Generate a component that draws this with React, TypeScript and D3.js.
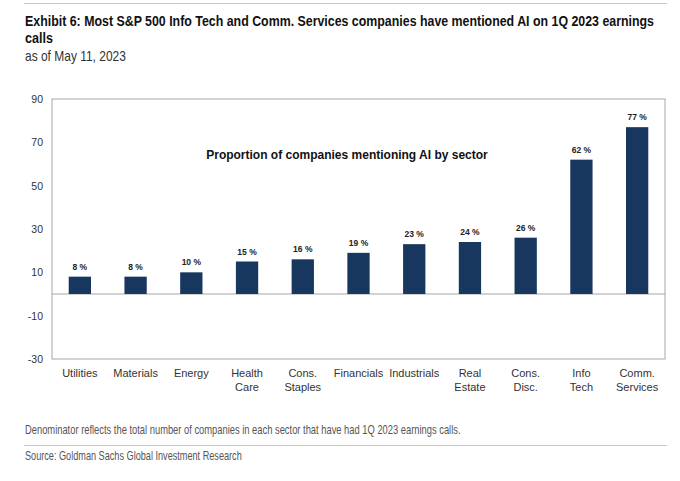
import React, { useEffect, useRef } from 'react';
import * as d3 from 'd3';

// sector labels (two lines where the original wraps)
const sectors: string[][] = [
  ['Utilities'], ['Materials'], ['Energy'], ['Health', 'Care'], ['Cons.', 'Staples'],
  ['Financials'], ['Industrials'], ['Real', 'Estate'], ['Cons.', 'Disc.'], ['Info', 'Tech'],
  ['Comm.', 'Services'],
];
const shares = [8, 8, 10, 15, 16, 19, 23, 24, 26, 62, 77];
const yTicks = [90, 70, 50, 30, 10, -10, -30];

const W = 680;
const H = 481;
const arial = '"Liberation Sans", Arial, sans-serif';

// squeeze a text horizontally into a given width, the original uses a narrow face
const fitText = (
  sel: d3.Selection<SVGSVGElement, unknown, null, undefined>,
  txt: string, x: number, y: number, len: number, size: number, bold = false, fill = '#222'
) => {
  const wrap = sel.append('g');
  const t = wrap.append('text')
    .attr('x', 0).attr('y', 0)
    .attr('font-family', arial).attr('font-size', size)
    .attr('font-weight', bold ? 'bold' : 'normal')
    .attr('fill', fill)
    .text(txt);
  const natural = (t.node() as SVGTextElement).getComputedTextLength() || len;
  wrap.attr('transform', `translate(${x},${y}) scale(${len / natural},1)`);
};

const App: React.FC = () => {
  const svgRef = useRef<SVGSVGElement | null>(null);

  useEffect(() => {
    if (!svgRef.current) return;
    const svg = d3.select(svgRef.current);
    svg.selectAll('*').remove();

    const margin = { top: 99, left: 52, right: 15, bottom: 122 };
    const innerW = W - margin.left - margin.right;
    const innerH = H - margin.top - margin.bottom;

    // header
    svg.append('line').attr('x1', 24).attr('x2', 667).attr('y1', 3.5).attr('y2', 3.5)
      .attr('stroke', '#c8c8c8').attr('stroke-width', 1);
    fitText(svg, 'Exhibit 6: Most S&P 500 Info Tech and Comm. Services companies have mentioned AI on 1Q 2023 earnings',
      25, 26, 629, 15, true, '#111');
    fitText(svg, 'calls', 25, 43, 28, 15, true, '#111');
    fitText(svg, 'as of May 11, 2023', 25, 61, 101, 14, false, '#333');

    const x = d3.scaleBand<number>().domain(d3.range(shares.length)).range([0, innerW]).paddingInner(0.6).paddingOuter(0.3);
    const y = d3.scaleLinear().domain([-30, 90]).range([innerH, 0]);

    const g = svg.append('g').attr('transform', `translate(${margin.left},${margin.top})`);

    g.append('rect').attr('x', 0).attr('y', 0).attr('width', innerW).attr('height', innerH)
      .attr('fill', 'none').attr('stroke', '#a6a6a6').attr('stroke-width', 1);

    // y axis labels (plain hyphen for negatives, like the original)
    const yAxis = g.append('g').call(
      d3.axisLeft(y).tickValues(yTicks).tickSize(0).tickPadding(9).tickFormat(d => String(d))
    );
    yAxis.select('.domain').remove();
    yAxis.selectAll('text').attr('font-family', arial).attr('font-size', 10.5).attr('fill', '#333');

    // zero line
    g.append('line').attr('x1', 0).attr('x2', innerW).attr('y1', y(0)).attr('y2', y(0))
      .attr('stroke', '#a6a6a6').attr('stroke-width', 1);

    g.selectAll('.bar').data(shares).enter().append('rect')
      .attr('class', 'bar')
      .attr('x', (_, i) => x(i) || 0)
      .attr('y', d => y(d))
      .attr('width', x.bandwidth())
      .attr('height', d => y(0) - y(d))
      .attr('fill', '#17375e');

    g.selectAll('.val').data(shares).enter().append('text')
      .attr('x', (_, i) => (x(i) || 0) + x.bandwidth() / 2)
      .attr('y', d => y(d) - 7)
      .attr('text-anchor', 'middle').attr('font-family', arial).attr('font-weight', 'bold')
      .attr('font-size', 8.5).attr('fill', '#222')
      .text(d => `${d} %`);

    // category labels
    const cats = g.selectAll('.cat').data(sectors).enter().append('text')
      .attr('text-anchor', 'middle').attr('font-family', arial).attr('font-size', 11).attr('fill', '#333');
    cats.each(function (lines, i) {
      const t = d3.select(this);
      lines.forEach((ln, k) => {
        t.append('tspan').attr('x', (x(i) || 0) + x.bandwidth() / 2).attr('y', innerH + 18 + k * 14).text(ln);
      });
    });

    g.append('text').attr('x', 295).attr('y', 60).attr('text-anchor', 'middle')
      .attr('font-family', arial).attr('font-weight', 'bold').attr('font-size', 12).attr('fill', '#111')
      .text('Proportion of companies mentioning AI by sector');

    // footer
    fitText(svg, 'Denominator reflects the total number of companies in each sector that have had 1Q 2023 earnings calls.',
      25, 434, 436, 12, false, '#555');
    svg.append('line').attr('x1', 24).attr('x2', 667).attr('y1', 445.5).attr('y2', 445.5)
      .attr('stroke', '#c8c8c8').attr('stroke-width', 1);
    fitText(svg, 'Source: Goldman Sachs Global Investment Research', 25, 460, 217, 12, false, '#555');
  }, []);

  return (
    <svg ref={svgRef} width={W} height={H}
      style={{ position: 'absolute', left: 0, top: 0, background: '#fff', display: 'block' }} />
  );
};

export default App;
